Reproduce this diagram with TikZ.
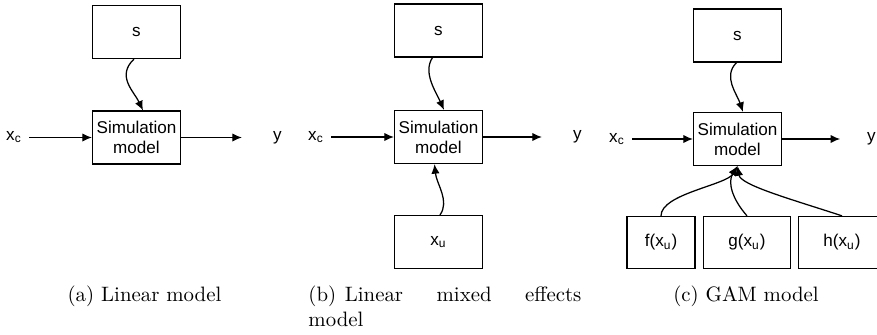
\documentclass[tikz,border=0pt]{standalone}
\usepackage{fontspec}
\setsansfont{Liberation Sans}
\usepackage{tikz}
\usetikzlibrary{arrows,arrows.meta,positioning}
\usetikzlibrary{calc}

\begin{document}
\begin{tikzpicture}[x=0.48pt,y=-0.48pt,
  blk/.style={draw,line width=0.6pt,minimum width=42.2pt,minimum height=25.4pt,
    inner sep=0pt,align=center,font=\sffamily\fontsize{8.2}{9.5}\selectfont},
  lbl/.style={font=\sffamily\fontsize{8.2}{9.5}\selectfont},
  conn/.style={-{Latex[length=4.6pt,width=4pt]},line width=0.6pt},
  outconn/.style={conn,shorten >=11.5pt},
  captxt/.style={font=\fontsize{10}{12}\selectfont,anchor=base,inner sep=0pt}]
\useasboundingbox (0,0) rectangle (877,334);
\clip (0,0) rectangle (877,334);

\node[blk] (sa) at (136.5,32) {s};
\node[blk] (sima) at (136.5,137.5) {Simulation\\model};
\node[lbl] (xca) at (14,137.5) {x\textsubscript{c}};
\node[lbl] (ya) at (277.5,137.5) {y};
\draw[conn] (xca) -- (sima);
\draw[outconn] (sima) -- (ya);
\draw[conn] ($(sa.south)+(-2.5,0)$) .. controls +(-18,17) and +(-9,-19) .. ($(sima.north)+(6.5,0)$);
\node[captxt] (capa) at (144.5,301.5) {(a) Linear model};

\node[blk] (sb) at (438.5,30.5) {s};
\node[blk] (simb) at (438.5,137) {Simulation\\model};
\node[blk] (xub) at (438.5,242) {x\textsubscript{u}};
\node[lbl] (xcb) at (316,137) {x\textsubscript{c}};
\node[lbl] (yb) at (577.5,137) {y};
\draw[conn] (xcb) -- (simb);
\draw[outconn] (simb) -- (yb);
\draw[conn] ($(sb.south)+(-6,0)$) .. controls +(-10,15) and +(-8,-18) .. ($(simb.north)+(5.5,0)$);
\draw[conn] ($(xub.north)+(1.5,0)$) .. controls +(10,-14) and +(2,20) .. ($(simb.south)+(-4,0)$);
\node[captxt,anchor=base west,text width=131pt,align=justify] (capb) at (308,301.5)
  {\hangindent=17.5pt\hangafter=1\makebox[17.5pt][l]{(b)}Linear mixed effects\linebreak model};

\node[blk] (sc) at (737.5,35.5) {s};
\node[blk] (simc) at (737.5,139) {Simulation\\model};
\node[lbl] (xcc) at (617,139) {x\textsubscript{c}};
\node[lbl] (yc) at (871.5,139) {y};
\node[blk,minimum width=32.6pt,minimum height=25pt] (fc) at (661,242.5) {f(x\textsubscript{u})};
\node[blk,minimum width=41.8pt,minimum height=25pt] (gc) at (747,242.5) {g(x\textsubscript{u})};
\node[blk,minimum width=41.8pt,minimum height=25pt] (hc) at (842,242.5) {h(x\textsubscript{u})};
\draw[conn] (xcc) -- (simc);
\draw[outconn,shorten >=9.5pt] (simc) -- (yc);
\draw[conn] ($(sc.south)+(-1,0)$) .. controls +(-14,14) and +(-6,-18) .. ($(simc.north)+(5.5,0)$);
\draw[conn] (fc.north) .. controls +(0,-22) and +(-11,19) .. (simc.south);
\draw[conn] (gc.north) .. controls +(-15,-17) and +(-10,16) .. (simc.south);
\draw[conn] (hc.north) .. controls +(-52,-17) and +(3,19) .. (simc.south);
\node[captxt] (capc) at (746,301.5) {(c) GAM model};
\end{tikzpicture}
\end{document}
